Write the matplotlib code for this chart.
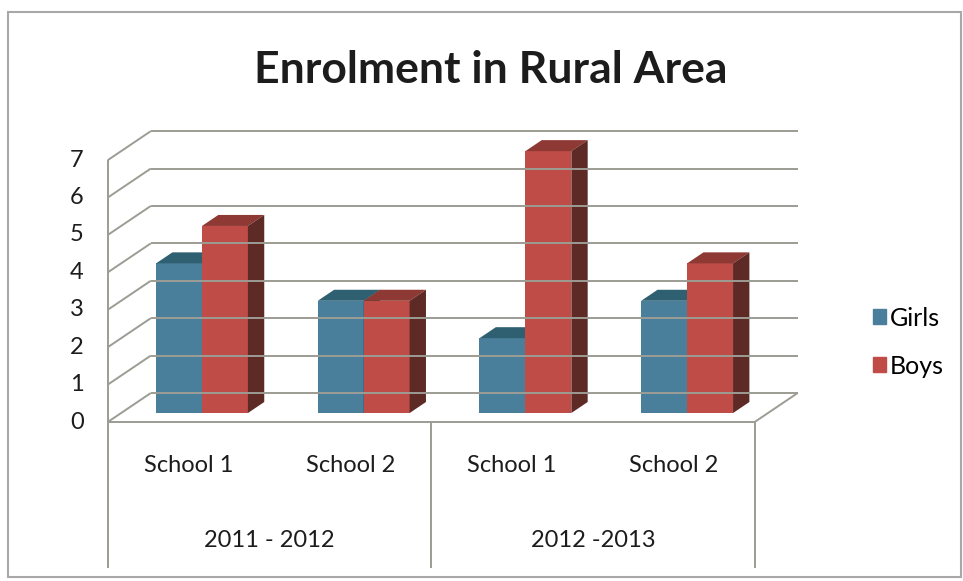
import matplotlib.pyplot as plt
from matplotlib.patches import Polygon, Rectangle, Patch

plt.rcParams['font.family'] = ['Lato', 'DejaVu Sans']

years = ['2011 - 2012', '2012 -2013']
schools = ['School 1', 'School 2', 'School 1', 'School 2']
girls = [4, 3, 2, 3]
boys = [5, 3, 7, 4]
y_ticks = list(range(0, 8))

blue = {'front': '#4a7f9c', 'top': '#2f6072', 'side': '#24495a'}
red = {'front': '#bf4c47', 'top': '#8e3933', 'side': '#5e2a25'}
grid_c = '#9c9c94'
txt_c = '#1c1c1c'

fig = plt.figure(figsize=(9.63, 5.81), dpi=100)
ax = fig.add_axes([0, 0, 1, 1])
ax.set_xlim(-1.249, 4.706)
ax.set_ylim(-4.49, 11.04)
ax.axis('off')

# fake 3d: depth vector of the box, in data units
DX, DY = 0.266, 0.775
tf, tb = -0.31, 0.69      # box front / back, bars start at 0
bt = 0.38                 # bar depth
w = 0.284                 # bar width
ymax = y_ticks[-1]
y_axis_bottom = -4.14


def P(x, y, t):
    return (x + t * DX, y + t * DY)


def seg(a, b, **kw):
    ax.plot([a[0], b[0]], [a[1], b[1]], color=grid_c, lw=1.4,
            solid_capstyle='butt', **kw)


x_lo, x_hi = -0.5, len(schools) - 0.5

# walls and floor
for v in y_ticks:
    seg(P(x_lo, v, tb), P(x_hi, v, tb))
    seg(P(x_lo, v, tf), P(x_lo, v, tb))
seg(P(x_lo, 0, tf), P(x_hi, 0, tf))
seg(P(x_hi, 0, tf), P(x_hi, 0, tb))
seg(P(x_lo, ymax, tf), P(x_lo, 0, tf))

# category axis dividers
for xd in [x_lo, x_lo + 2, x_hi]:
    top = P(xd, 0, tf)
    seg(top, (top[0], y_axis_bottom))


def bar(x0, v, cols):
    x1 = x0 + w
    ax.add_patch(Rectangle((x0, 0), w, v, facecolor=cols['front'], edgecolor='none'))
    ax.add_patch(Polygon([P(x0, v, 0), P(x1, v, 0), P(x1, v, bt), P(x0, v, bt)],
                         facecolor=cols['top'], edgecolor='none'))
    ax.add_patch(Polygon([P(x1, 0, 0), P(x1, v, 0), P(x1, v, bt), P(x1, 0, bt)],
                         facecolor=cols['side'], edgecolor='none'))


for i in range(len(schools)):
    bar(i - w, girls[i], blue)
    bar(i, boys[i], red)

# tick labels
for v in y_ticks:
    ax.text(-0.773, v + tf * DY, str(v), ha='center', va='center',
            fontsize=17, color=txt_c)

for i, s in enumerate(schools):
    ax.text(i + tf * DX, -1.39, s, ha='center', va='center', fontsize=17, color=txt_c)
for j, yr in enumerate(years):
    ax.text(0.5 + 2 * j + tf * DX, -3.40, yr, ha='center', va='center',
            fontsize=17, color=txt_c)

fig.text(0.51, 1 - 70 / 581, 'Enrolment in Rural Area', ha='center', va='center',
         fontsize=32, fontweight='bold', color=txt_c)

handles = [Patch(color=blue['front']), Patch(color=red['front'])]
fig.legend(handles, ['Girls', 'Boys'], loc='center left',
           bbox_to_anchor=(860 / 963, 1 - 342 / 581), frameon=False,
           fontsize=18, handlelength=0.55, handleheight=0.55,
           handletextpad=0.15, labelspacing=1.0, borderpad=0)

fig.patches.append(Rectangle((8 / 963, 1 - 577 / 581), 953 / 963, 565 / 581,
                             transform=fig.transFigure, fill=False,
                             edgecolor='#a8a8a8', lw=1.5))

fig.savefig('out.png', dpi=100)
